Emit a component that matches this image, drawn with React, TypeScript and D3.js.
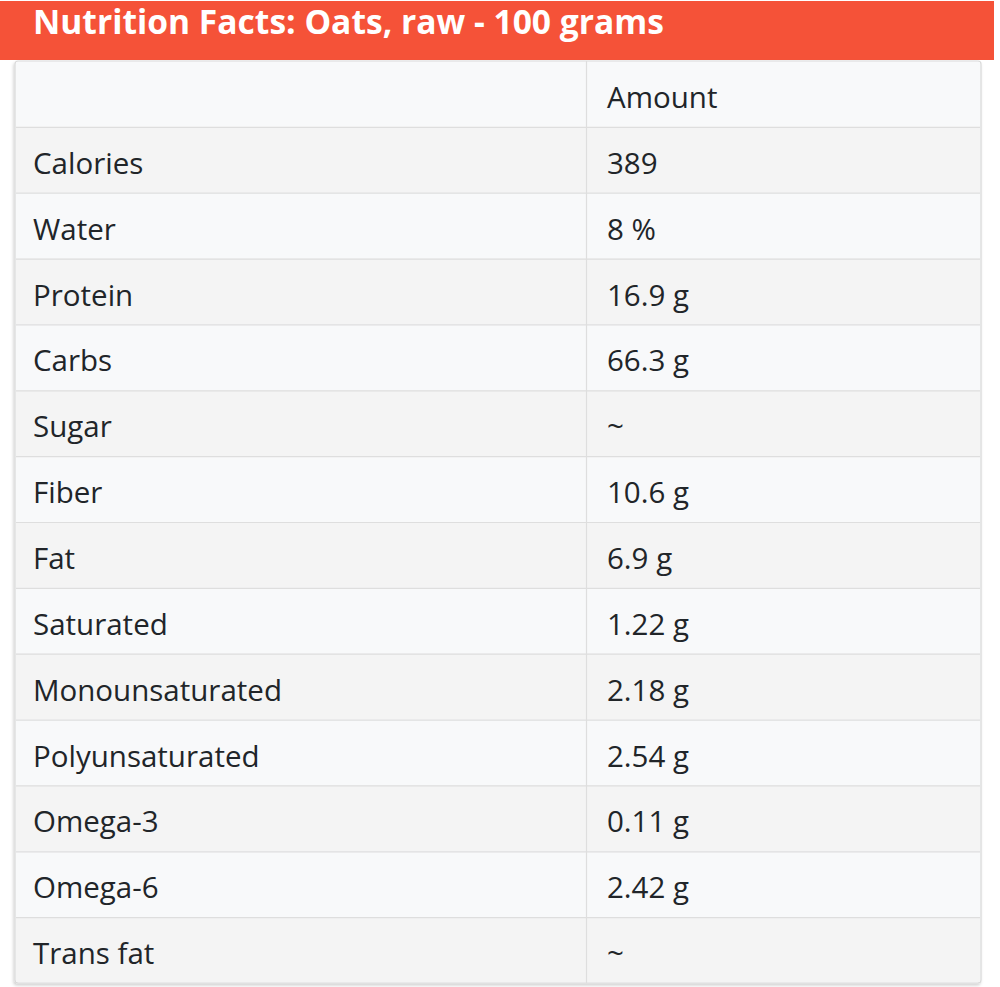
import React, { useEffect, useRef } from "react";
import * as d3 from "d3";

const title = "Nutrition Facts: Oats, raw - 100 grams";
const headerLabels = ["", "Amount"];
const nutrients = ["Calories", "Water", "Protein", "Carbs", "Sugar", "Fiber", "Fat", "Saturated", "Monounsaturated", "Polyunsaturated", "Omega-3", "Omega-6", "Trans fat"];
const amounts = ["389", "8 %", "16.9 g", "66.3 g", "~", "10.6 g", "6.9 g", "1.22 g", "2.18 g", "2.54 g", "0.11 g", "2.42 g", "~"];

const W = 1000, H = 987;

export default function App() {
  const ref = useRef<SVGSVGElement>(null);
  useEffect(() => {
    const svg = d3.select(ref.current);
    svg.selectAll("*").remove();
    const font = "'Open Sans', 'Noto Sans', sans-serif";

    const defs = svg.append("defs");
    const f = defs.append("filter").attr("id", "sh").attr("x", "-5%").attr("y", "-5%").attr("width", "110%").attr("height", "110%");
    f.append("feDropShadow").attr("dx", -1).attr("dy", 2).attr("stdDeviation", 1.5).attr("flood-color", "#000").attr("flood-opacity", 0.18);

    svg.append("rect").attr("width", W).attr("height", H).attr("fill", "#ffffff");

    // title bar
    svg.append("rect").attr("x", 0).attr("y", 1).attr("width", 994).attr("height", 59).attr("fill", "#f55238");
    svg.append("text").attr("x", 33).attr("y", 33.5).attr("fill", "#ffffff")
      .attr("font-family", font).attr("font-weight", 700).attr("font-size", 33.6)
      .text(title);

    const rows = [{ n: headerLabels[0], a: headerLabels[1] }, ...nutrients.map((n, i) => ({ n, a: amounts[i] }))];
    const x0 = 15, x1 = 981, colX = 586;
    const top = 61, bottom = 983;
    const y = d3.scaleBand<number>().domain(d3.range(rows.length)).range([top, bottom]).padding(0);

    svg.append("rect").attr("x", x0).attr("y", top).attr("width", x1 - x0).attr("height", bottom - top)
      .attr("rx", 3).attr("fill", "#f8f9fa").attr("stroke", "#d9d9d9").attr("stroke-width", 1.2).attr("filter", "url(#sh)");

    const g = svg.append("g");
    g.selectAll("rect.row").data(rows).join("rect").attr("class", "row")
      .attr("x", x0 + 1).attr("width", x1 - x0 - 2)
      .attr("y", (_, i) => y(i)! + (i === 0 ? 1 : 0)).attr("height", (_, i) => y.bandwidth() - (i === 0 ? 1 : 0) - (i === rows.length - 1 ? 1 : 0))
      .attr("fill", (_, i) => (i % 2 === 1 ? "#f4f4f4" : "#f8f9fa"));

    g.selectAll("line.h").data(rows.slice(1)).join("line").attr("class", "h")
      .attr("x1", x0 + 1).attr("x2", x1 - 1)
      .attr("y1", (_, i) => y(i + 1)! + 0.5).attr("y2", (_, i) => y(i + 1)! + 0.5)
      .attr("stroke", "#dedede").attr("stroke-width", 1.2);
    g.append("line").attr("x1", colX + 0.5).attr("x2", colX + 0.5).attr("y1", top).attr("y2", bottom)
      .attr("stroke", "#dedede").attr("stroke-width", 1.2);

    g.selectAll("text.n").data(rows).join("text").attr("class", "n")
      .attr("x", 33).attr("y", (_, i) => y(i)! + y.bandwidth() / 2 + 14)
      .attr("font-family", font).attr("font-size", 29.5).attr("fill", "#212529")
      .text(d => d.n);
    g.selectAll("text.a").data(rows).join("text").attr("class", "a")
      .attr("x", 607).attr("y", (_, i) => y(i)! + y.bandwidth() / 2 + 14)
      .attr("font-family", font).attr("font-size", 29.5).attr("fill", "#212529")
      .text(d => d.a);
  }, []);
  return <svg ref={ref} width={W} height={H} style={{ display: "block", position: "absolute", left: 0, top: 0 }} />;
}
